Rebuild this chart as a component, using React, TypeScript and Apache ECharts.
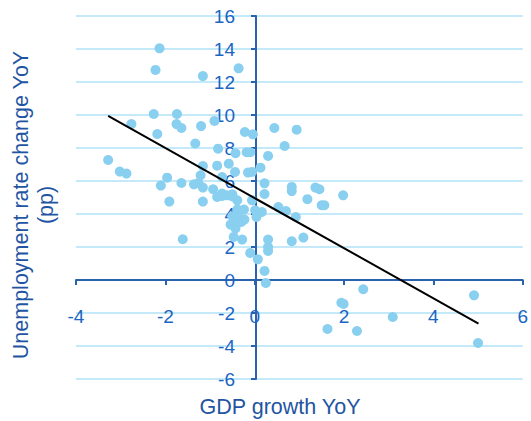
import React, { useEffect, useRef } from "react";
import * as echarts from "echarts";

const gdpGrowth: number[] = [
  -2.13, -2.22, -1.16, -0.36, -2.26, -1.74, -2.76, -1.75, -1.64, -2.18,
  -1.2, -0.9, -0.22, -0.04, 0.44, 0.94, 0.67, -1.33, -0.82, -0.43,
  -0.18, -0.1, 0.3, -3.28, -3.02, -2.87, -1.16, -0.84, -0.58, -0.44,
  -0.15, -0.06, 0.13, -1.21, -0.73, -1.96, -2.1, -1.64, -1.36, -1.26,
  -1.16, -0.93, -0.73, -0.5, 0.22, 0.22, 0.83, 0.83, 1.36, 1.45,
  1.18, 1.98, 1.5, 1.56, 0.53, 0.7, 0.92, 0.83, 1.09, 2.43,
  1.94, 1.99, 4.91, 3.09, 1.63, 2.29, 5.0, -1.91, -1.16, -0.84,
  -0.73, -0.62, -0.5, -0.39, -0.06, -0.39, -0.24, 0.01, 0.16, -0.5,
  -0.36, -0.23, 0.04, -0.54, -0.39, -0.3, -0.43, -0.47, -0.28, -1.61,
  0.3, 0.3, 0.3, -0.1, 0.07, 0.22, 0.25,
];

const unemploymentChange: number[] = [
  14.04, 12.73, 12.36, 12.83, 10.06, 10.06, 9.45, 9.45, 9.21, 8.85,
  9.33, 9.64, 8.97, 8.83, 9.21, 9.11, 8.12, 8.27, 7.96, 7.68,
  7.74, 7.74, 7.52, 7.27, 6.57, 6.45, 6.91, 6.93, 7.05, 6.55,
  6.51, 6.55, 6.81, 6.35, 6.24, 6.2, 5.72, 5.88, 5.8, 5.88,
  5.6, 5.5, 5.24, 5.19, 5.86, 5.21, 5.64, 5.39, 5.6, 5.5,
  4.9, 5.13, 4.53, 4.53, 4.42, 4.18, 3.82, 2.35, 2.57, -0.56,
  -1.38, -1.45, -0.93, -2.24, -2.97, -3.09, -3.82, 4.75, 4.75, 5.03,
  5.09, 5.13, 5.07, 4.83, 4.83, 4.27, 4.27, 4.22, 4.12, 3.86,
  3.82, 3.66, 3.82, 3.36, 3.45, 3.52, 3.12, 2.61, 2.45, 2.47,
  2.45, 2.0, 1.76, 1.64, 1.25, 0.55, -0.18,
];

const trendX: number[] = [-3.28, 5.01];
const trendY: number[] = [9.94, -2.64];

const xTitle = "GDP growth YoY";
const yTitle = "Unemployment rate change YoY\n(pp)";

export default function App() {
  const ref = useRef<HTMLDivElement>(null);

  useEffect(() => {
    if (!ref.current) return;
    const chart = echarts.init(ref.current, undefined, { renderer: "svg" });
    const font = "'Liberation Sans', Arial, sans-serif";
    const axisBlue = "#2a62ad";
    const labelBlue = "#1a66c2";
    const titleBlue = "#1f55a3";

    // grid: x from 76 to 526 (-4..6), y from 16 to 379 (16..-6)
    const gridLeft = 76;
    const gridRight = 5;
    const gridTop = 16;
    const gridBottom = 42;
    const plotW = 531 - gridLeft - gridRight;
    const plotH = 421 - gridTop - gridBottom;
    const xZeroOffset = -(plotW * (0 - -4)) / (6 - -4); // move y axis to x=0
    const yZeroOffset = -(plotH * (0 - -6)) / (16 - -6); // move x axis to y=0

    chart.setOption({
      animation: false,
      backgroundColor: "#ffffff",
      grid: { left: gridLeft, right: gridRight, top: gridTop, bottom: gridBottom, containLabel: false },
      xAxis: {
        type: "value",
        min: -4,
        max: 6,
        interval: 2,
        position: "bottom",
        offset: yZeroOffset,
        axisLine: { onZero: false, lineStyle: { color: axisBlue, width: 2 } },
        axisTick: { show: true, inside: false, length: 5, lineStyle: { color: axisBlue, width: 2 } },
        axisLabel: { color: labelBlue, fontSize: 19, fontFamily: font, margin: 27 },
        splitLine: { show: false },
      },
      yAxis: {
        type: "value",
        min: -6,
        max: 16,
        interval: 2,
        position: "left",
        offset: xZeroOffset,
        axisLine: { show: true, onZero: false, lineStyle: { color: axisBlue, width: 2 } },
        axisTick: { show: true, inside: false, length: 5, lineStyle: { color: axisBlue, width: 2 } },
        axisLabel: { color: labelBlue, fontSize: 19, fontFamily: font, margin: 21 },
        splitLine: { show: true, lineStyle: { color: "#b0e2f6", width: 1.5 } },
      },
      graphic: [
        {
          type: "text",
          x: 280,
          y: 407,
          style: {
            text: xTitle,
            fill: titleBlue,
            font: `21.5px ${font}`,
            align: "center",
            verticalAlign: "middle",
          },
        },
        {
          type: "text",
          x: 33,
          y: 205,
          rotation: Math.PI / 2,
          style: {
            text: yTitle,
            fill: titleBlue,
            font: `21.5px ${font}`,
            align: "center",
            verticalAlign: "middle",
            lineHeight: 25,
          },
        },
      ],
      series: [
        {
          type: "scatter",
          symbol: "circle",
          symbolSize: 10,
          itemStyle: { color: "#89cff0", opacity: 1 },
          data: gdpGrowth.map((x, i) => [x, unemploymentChange[i]]),
          z: 2,
        },
        {
          type: "line",
          data: trendX.map((x, i) => [x, trendY[i]]),
          symbol: "none",
          lineStyle: { color: "#000000", width: 2 },
          z: 3,
        },
      ],
    });

    return () => chart.dispose();
  }, []);

  return <div ref={ref} style={{ width: 531, height: 421, position: "absolute", left: 0, top: 0 }} />;
}
